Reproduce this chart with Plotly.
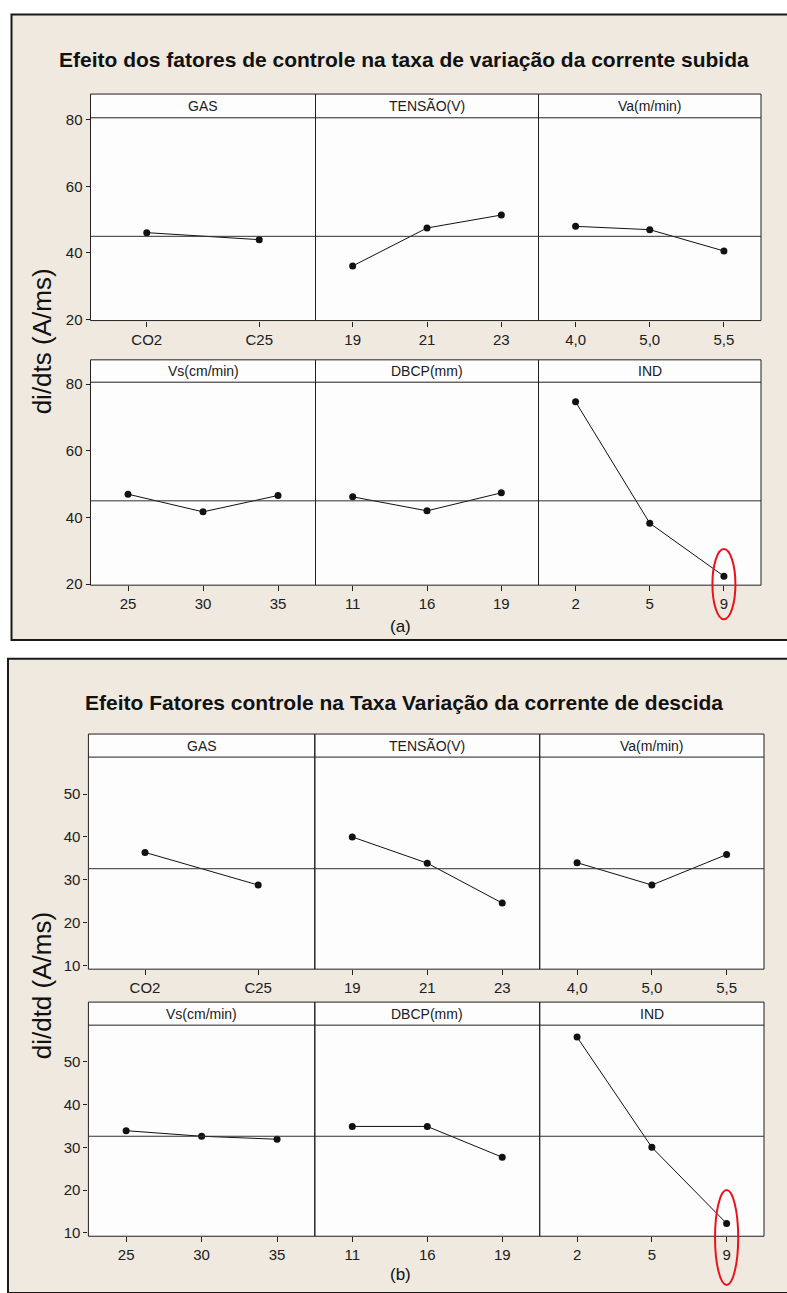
import plotly.graph_objects as go

# ---------------- data ----------------
factors_row1 = ["GAS", "TENSÃO(V)", "Va(m/min)"]
factors_row2 = ["Vs(cm/min)", "DBCP(mm)", "IND"]

gas_levels = ["CO2", "C25"]
tensao_levels = ["19", "21", "23"]
va_levels = ["4,0", "5,0", "5,5"]
vs_levels = ["25", "30", "35"]
dbcp_levels = ["11", "16", "19"]
ind_levels = ["2", "5", "9"]

# (a) di/dts - subida
gas_a = [46.1, 44.0]
tensao_a = [36.1, 47.5, 51.4]
va_a = [48.0, 47.0, 40.6]
vs_a = [47.0, 41.7, 46.6]
dbcp_a = [46.2, 42.0, 47.4]
ind_a = [74.7, 38.3, 22.4]
mean_a = 45.0

# (b) di/dtd - descida
gas_b = [36.4, 28.8]
tensao_b = [40.0, 33.9, 24.6]
va_b = [34.0, 28.8, 35.9]
vs_b = [33.9, 32.6, 31.9]
dbcp_b = [34.9, 34.9, 27.7]
ind_b = [55.8, 30.0, 12.2]
mean_b = 32.6

title_a = "Efeito dos fatores de controle na taxa de variação da corrente subida"
title_b = "Efeito Fatores controle na Taxa Variação da corrente de descida"
ylab_a = "di/dts (A/ms)"
ylab_b = "di/dtd (A/ms)"
yticks_a = [20, 40, 60, 80]
yticks_b = [10, 20, 30, 40, 50]

# ---------------- layout geometry (pixels) ----------------
W, H = 787, 1293
def px(x):
    return x / W
def py(y):
    return 1 - y / H

BEIGE = "#EFE9E0"
FONT = "Liberation Sans, Arial, sans-serif"
INK = "#202020"

charts = [
    dict(
        title=title_a, ylab=ylab_a, yticks=yticks_a, yrange=[19.7, 80.6], mean=mean_a,
        box=(11.5, 7.5, 795, 640), title_y=53, ylab_y=338, label="(a)", label_y=626,
        cols=[(90.5, 315.5), (315.5, 538.5), (538.5, 761)],
        rows=[((88, 112), (112, 317)), ((356.7, 379.3), (379.3, 584.5))],
        panels=[[(factors_row1[0], gas_levels, gas_a), (factors_row1[1], tensao_levels, tensao_a), (factors_row1[2], va_levels, va_a)],
                [(factors_row2[0], vs_levels, vs_a), (factors_row2[1], dbcp_levels, dbcp_a), (factors_row2[2], ind_levels, ind_a)]],
        ellipse_y=(548, 619),
    ),
    dict(
        title=title_b, ylab=ylab_b, yticks=yticks_b, yrange=[9.2, 58.6], mean=mean_b,
        box=(8, 659, 795, 1300), title_y=703, ylab_y=990, label="(b)", label_y=1281,
        cols=[(88.4, 314.8), (314.8, 539.7), (539.7, 764)],
        rows=[((735, 758.3), (758.3, 972.7)), ((1006, 1029.3), (1029.3, 1242.7))],
        panels=[[(factors_row1[0], gas_levels, gas_b), (factors_row1[1], tensao_levels, tensao_b), (factors_row1[2], va_levels, va_b)],
                [(factors_row2[0], vs_levels, vs_b), (factors_row2[1], dbcp_levels, dbcp_b), (factors_row2[2], ind_levels, ind_b)]],
        ellipse_y=(1196, 1292),
    ),
]

fig = go.Figure()
shapes = []
annotations = []
layout_axes = {}

# beige chart backgrounds
for ch in charts:
    x0, y0, x1, y1 = ch["box"]
    shapes.append(dict(type="rect", xref="paper", yref="paper", layer="below",
                       x0=px(x0), x1=px(x1), y0=py(y1), y1=py(y0),
                       fillcolor=BEIGE, line=dict(color="#1a1a1a", width=2)))

idx = 0
for ci, ch in enumerate(charts):
    for ri, (strip, plot) in enumerate(ch["rows"]):
        for ki, (xl, xr) in enumerate(ch["cols"]):
            idx += 1
            name, levels, vals = ch["panels"][ri][ki]
            xa = "x" if idx == 1 else f"x{idx}"
            ya = "y" if idx == 1 else f"y{idx}"
            # white panel bg
            shapes.append(dict(type="rect", xref="paper", yref="paper", layer="below",
                               x0=px(xl), x1=px(xr), y0=py(plot[1]), y1=py(strip[0]),
                               fillcolor="#FDFDFD", line=dict(width=0)))
            # panel border (strip + plot area)
            shapes.append(dict(type="rect", xref="paper", yref="paper", layer="above",
                               x0=px(xl), x1=px(xr), y0=py(plot[1]), y1=py(strip[0]),
                               fillcolor="rgba(0,0,0,0)", line=dict(color=INK, width=1)))
            # strip separator
            shapes.append(dict(type="line", xref="paper", yref="paper", layer="above",
                               x0=px(xl), x1=px(xr), y0=py(strip[1]), y1=py(strip[1]),
                               line=dict(color=INK, width=1)))
            annotations.append(dict(xref="paper", yref="paper", x=px((xl + xr) / 2),
                                    y=py((strip[0] + strip[1]) / 2), text=name, showarrow=False,
                                    font=dict(family=FONT, size=14, color=INK),
                                    xanchor="center", yanchor="middle"))
            # mean reference line
            shapes.append(dict(type="line", xref=f"{xa} domain", yref=ya, layer="above",
                               x0=0, x1=1, y0=ch["mean"], y1=ch["mean"],
                               line=dict(color="#303030", width=1)))
            fig.add_trace(go.Scatter(
                x=levels, y=vals, xaxis=xa, yaxis=ya, mode="lines+markers",
                line=dict(color="#111111", width=1),
                marker=dict(color="#111111", size=7, symbol="circle"),
                showlegend=False, cliponaxis=False))
            key_x = "xaxis" if idx == 1 else f"xaxis{idx}"
            key_y = "yaxis" if idx == 1 else f"yaxis{idx}"
            layout_axes[key_x] = dict(
                domain=[px(xl), px(xr)], anchor=ya, type="category",
                categoryorder="array", categoryarray=levels,
                range=[-0.5, len(levels) - 0.5], showgrid=False, zeroline=False,
                showline=False,
                ticks="outside", ticklen=5, tickcolor=INK,
                tickfont=dict(family=FONT, size=15, color=INK), fixedrange=True)
            layout_axes[key_y] = dict(
                domain=[py(plot[1]), py(plot[0])], anchor=xa,
                range=ch["yrange"], showgrid=False, zeroline=False,
                showline=False,
                tickvals=ch["yticks"], ticktext=[str(t) for t in ch["yticks"]],
                ticks="outside" if ki == 0 else "", ticklen=4, tickcolor=INK,
                showticklabels=(ki == 0),
                tickfont=dict(family=FONT, size=15, color=INK), fixedrange=True)
            if name == factors_row2[2]:
                # red ellipse around the last IND level
                ey0, ey1 = ch["ellipse_y"]
                shapes.append(dict(type="circle", xref=xa, yref="paper", layer="above",
                                   x0=len(levels) - 1 - 0.155, x1=len(levels) - 1 + 0.155,
                                   y0=py(ey1), y1=py(ey0),
                                   line=dict(color="#E8141B", width=2)))
    # title
    annotations.append(dict(xref="paper", yref="paper", x=px(404), y=py(ch["title_y"]),
                            text=f"<b>{ch['title']}</b>", showarrow=False,
                            font=dict(family=FONT, size=21, color="#111111"),
                            xanchor="center", yanchor="middle"))
    # y label
    annotations.append(dict(xref="paper", yref="paper", x=px(42), y=py(ch["ylab_y"]),
                            text=ch["ylab"], showarrow=False, textangle=-90,
                            font=dict(family=FONT, size=26, color="#111111"),
                            xanchor="center", yanchor="middle"))
    # sub label
    annotations.append(dict(xref="paper", yref="paper", x=px(400), y=py(ch["label_y"]),
                            text=ch["label"], showarrow=False,
                            font=dict(family=FONT, size=17, color="#111111"),
                            xanchor="center", yanchor="middle"))

fig.update_layout(
    width=W, height=H, margin=dict(l=0, r=0, t=0, b=0),
    paper_bgcolor="white", plot_bgcolor="rgba(0,0,0,0)",
    shapes=shapes, annotations=annotations, showlegend=False,
    **layout_axes)

fig.write_html("out.html", config={"displayModeBar": False},
               post_script="document.body.style.margin='0';document.body.style.overflow='hidden';")
